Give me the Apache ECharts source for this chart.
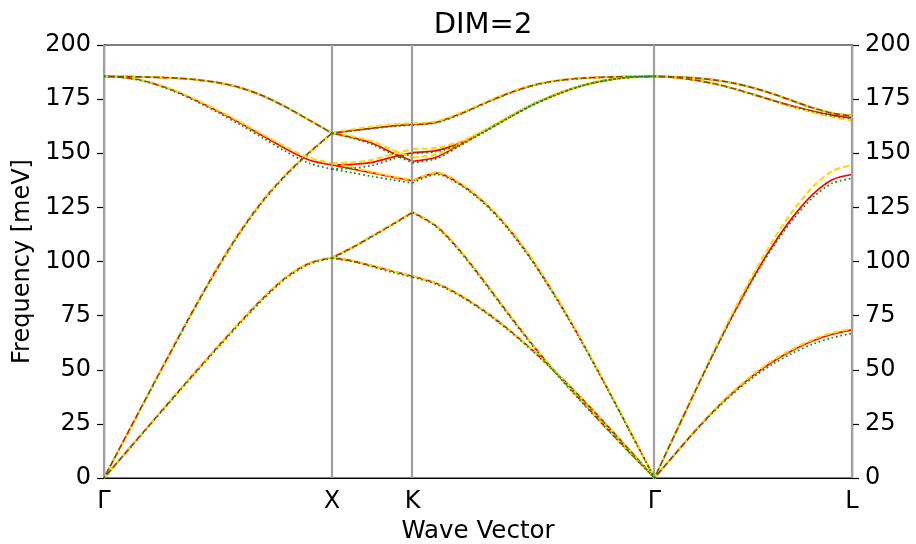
<!DOCTYPE html>
<html>
<head>
<meta charset="utf-8">
<script src="https://cdn.jsdelivr.net/npm/echarts@6/dist/echarts.min.js"></script>
<style>
  html, body { margin: 0; padding: 0; background: #fff; }
  #chart { width: 916px; height: 544px; }
</style>
</head>
<body>
<div id="chart"></div>
<script>
// High-symmetry points along the path (cumulative distance, 2π/a units)
const tickNames = ['Γ', 'X', 'K', 'Γ', 'L'];
const tickPos = [0, 1, 1.35355, 2.41421, 3.28024];
const yTicks = [0, 25, 50, 75, 100, 125, 150, 175, 200];

// Sampling positions inside each segment (fraction of segment length)
const fracFine = [0, 0.1, 0.2, 0.3, 0.4, 0.5, 0.6, 0.7, 0.8, 0.9, 1];
const fracXK = [0, 0.25, 0.5, 0.75, 1];

// ---- Γ–X branches (meV): LA, TA, LO, TO ----
const redGX = [
  [0, 20, 40, 59.8, 79.2, 97.6, 114.3, 128.6, 140.4, 150.4, 159.3],
  [0, 12.3, 24.6, 36.8, 48.9, 60.8, 72.4, 83.4, 92.9, 99.2, 101.8],
  [185.5, 185.4, 185.2, 184.8, 184, 182.6, 180.2, 176.4, 171.2, 165.3, 159.3],
  [185.5, 184.9, 182.8, 179.2, 174.6, 169.4, 163.8, 157.8, 151.9, 146.9, 144.6]
];
const yellowGX = [
  [0, 20, 40, 59.8, 79.2, 97.6, 114.3, 128.6, 140.4, 150.4, 159.3],
  [0, 12.3, 24.6, 36.8, 48.9, 60.8, 72.4, 83.4, 92.9, 99.2, 101.8],
  [185.5, 185.4, 185.2, 184.8, 184, 182.6, 180.2, 176.4, 171.2, 165.3, 159.3],
  [185.5, 184.9, 182.9, 179.4, 174.9, 169.8, 164.3, 158.5, 152.8, 147.9, 145.4]
];
const greenGX = [
  [0, 19.9, 39.7, 59.4, 78.7, 97, 113.7, 128.1, 140, 150.1, 159.3],
  [0, 12.2, 24.3, 36.4, 48.4, 60.2, 71.8, 82.8, 92.3, 98.8, 101.5],
  [185.5, 185.4, 185.2, 184.8, 184, 182.6, 180.2, 176.4, 171.2, 165.3, 159.3],
  [185.5, 184.8, 182.6, 178.9, 174.2, 168.8, 163, 156.8, 150.6, 145.4, 142.7]
];

// ---- X–K branches ----
const redXK = [
  [159.3, 160.5, 161.6, 162.6, 163.3],
  [159.3, 157.3, 154.6, 150.2, 146.3],
  [144.6, 144.9, 145.8, 148.2, 150.3],
  [144.6, 142.8, 140.9, 139, 137.3],
  [101.8, 106.5, 111.8, 117.2, 122.8],
  [101.8, 100.3, 98, 95.5, 93.2]
];
const yellowXK = [
  [159.5, 161, 162.3, 163.3, 163.9],
  [159.5, 157.8, 155.5, 151.6, 148],
  [145.4, 145.8, 147, 149.6, 152],
  [145.4, 143.4, 141.3, 139.3, 137.6],
  [101.8, 106.5, 111.8, 117.2, 122.8],
  [101.8, 100.3, 98, 95.5, 93.2]
];
const greenXK = [
  [159.2, 160.3, 161.4, 162.4, 163],
  [159.2, 157, 154, 149.6, 145.5],
  [142.7, 143.1, 144.4, 147.3, 149.8],
  [142.7, 141, 139.3, 137.7, 136.2],
  [101.5, 106.2, 111.5, 117, 122.6],
  [101.5, 100, 97.6, 95, 92.8]
];

// ---- K–Γ branches ----
const redKG = [
  [163.3, 164.4, 168.4, 173.3, 177.9, 181.5, 183.6, 184.7, 185.2, 185.4, 185.5],
  [150.3, 151.3, 154.9, 160.6, 166.9, 172.8, 177.6, 181.3, 183.8, 185.1, 185.5],
  [146.3, 148.3, 154.3, 160.4, 166.7, 172.6, 177.4, 181.2, 183.7, 185.1, 185.5],
  [137.3, 140.8, 135.6, 126.8, 114.8, 99.7, 82.2, 63, 42.5, 21.3, 0],
  [122.8, 116.2, 104.5, 90.2, 75.3, 61, 47.7, 35.3, 23.3, 11.5, 0],
  [93.2, 89.8, 84.2, 76.9, 68.3, 58.6, 48, 36.7, 24.8, 12.5, 0]
];
const yellowKG = [
  [163.8, 164.8, 168.7, 173.5, 178.1, 181.6, 183.7, 184.7, 185.2, 185.4, 185.5],
  [152, 152.6, 155.5, 160.9, 167.1, 172.9, 177.7, 181.4, 183.8, 185.1, 185.5],
  [148, 149.5, 154.7, 160.6, 166.8, 172.7, 177.5, 181.2, 183.7, 185.1, 185.5],
  [137.6, 141.1, 135.9, 127.1, 115.1, 100, 82.5, 63.2, 42.7, 21.4, 0],
  [122.8, 116.2, 104.5, 90.2, 75.3, 61, 47.7, 35.3, 23.3, 11.5, 0],
  [93.2, 89.8, 84.2, 76.9, 68.3, 58.6, 48, 36.7, 24.8, 12.5, 0]
];
const greenKG = [
  [163, 164.1, 168.1, 173, 177.7, 181.3, 183.5, 184.6, 185.2, 185.4, 185.5],
  [150, 150.8, 154.4, 160.3, 166.6, 172.6, 177.4, 181.2, 183.7, 185.1, 185.5],
  [145.5, 147.6, 153.7, 160, 166.4, 172.4, 177.2, 181.1, 183.6, 185.1, 185.5],
  [136.3, 140.2, 135.1, 126.3, 114.2, 99.1, 81.7, 62.5, 42.1, 21, 0],
  [122.6, 115.8, 104, 89.7, 74.8, 60.5, 47.3, 34.9, 23, 11.3, 0],
  [92.8, 89.4, 83.8, 76.5, 67.9, 58.2, 47.6, 36.4, 24.5, 12.3, 0]
];

// ---- Γ–L branches: LO, TO, LA, TA ----
const redGL = [
  [185.5, 185.3, 184.8, 183.9, 182.4, 180.2, 177.4, 174.2, 171, 168.5, 167.2],
  [185.5, 185, 183.9, 182.2, 179.9, 177.2, 174.4, 171.8, 169.5, 167.6, 166.3],
  [0, 19.6, 39, 57.9, 75.9, 92.6, 107.6, 120.5, 130.9, 137.8, 140.2],
  [0, 10.7, 21.2, 31, 39.8, 47.4, 53.8, 59, 63.3, 66.4, 68.4]
];
const yellowGL = [
  [185.5, 185.3, 184.8, 183.9, 182.4, 180.2, 177.4, 174.3, 171.1, 168.7, 167.5],
  [185.5, 185, 183.9, 182.2, 179.8, 177.1, 174.2, 171.4, 168.9, 166.7, 165.2],
  [0, 19.8, 39.4, 58.6, 77, 94.2, 109.8, 123.3, 134.3, 141.7, 144.6],
  [0, 10.8, 21.4, 31.3, 40.2, 47.9, 54.4, 59.6, 63.9, 67, 68.9]
];
const greenGL = [
  [185.5, 185.3, 184.8, 183.9, 182.4, 180.2, 177.4, 174.2, 171, 168.5, 167.2],
  [185.5, 185, 183.8, 182.1, 179.8, 177.1, 174.3, 171.6, 169.3, 167.3, 166],
  [0, 19.5, 38.8, 57.6, 75.4, 91.9, 106.7, 119.3, 129.4, 136.1, 138.4],
  [0, 10.6, 21, 30.6, 39.1, 46.5, 52.7, 57.7, 61.8, 64.8, 66.8]
];

const FONT = 'DejaVu Sans';

// Line styles for the three calculations: solid red, gold dashed, green dotted
const styles = {
  red: { color: '#ff0000', width: 1.7, type: 'solid', z: 3 },
  yellow: { color: '#ffd700', width: 2.1, type: [6, 3], z: 4 },
  green: { color: '#118a11', width: 1.7, type: [1.7, 2.8], z: 5 }
};

const segments = [
  { frac: fracFine, red: redGX, yellow: yellowGX, green: greenGX },
  { frac: fracXK, red: redXK, yellow: yellowXK, green: greenXK },
  { frac: fracFine, red: redKG, yellow: yellowKG, green: greenKG },
  { frac: fracFine, red: redGL, yellow: yellowGL, green: greenGL }
];

const series = [];
// Grey vertical guide lines at the high-symmetry points
series.push({
  type: 'line',
  data: [],
  z: 1,
  silent: true,
  markLine: {
    silent: true,
    symbol: ['none', 'none'],
    animation: false,
    label: { show: false },
    lineStyle: { color: '#a0a0a0', width: 2.2, type: 'solid' },
    data: tickPos.map(x => ({ xAxis: x }))
  }
});

['red', 'yellow', 'green'].forEach(key => {
  const st = styles[key];
  segments.forEach((seg, s) => {
    const x0 = tickPos[s];
    const len = tickPos[s + 1] - tickPos[s];
    seg[key].forEach(branch => {
      series.push({
        type: 'line',
        z: st.z,
        smooth: 0.3,
        symbol: 'none',
        silent: true,
        lineStyle: { color: st.color, width: st.width, type: st.type },
        data: branch.map((v, i) => [x0 + len * seg.frac[i], v])
      });
    });
  });
});

function nearestName(v) {
  let best = 0;
  for (let i = 1; i < tickPos.length; i++) {
    if (Math.abs(tickPos[i] - v) < Math.abs(tickPos[best] - v)) best = i;
  }
  return tickNames[best];
}

const yAxisBase = {
  type: 'value',
  min: yTicks[0],
  max: yTicks[yTicks.length - 1],
  interval: 25,
  splitLine: { show: false },
  axisLine: { show: true, lineStyle: { color: '#000', width: 1.2 } },
  axisTick: { show: true, inside: false, length: 7, lineStyle: { color: '#000', width: 1.2 } },
  axisLabel: { color: '#000', fontSize: 24, fontFamily: FONT, margin: 13 }
};

const chart = echarts.init(document.getElementById('chart'), null, { renderer: 'canvas' });
chart.setOption({
  animation: false,
  backgroundColor: '#ffffff',
  title: {
    text: 'DIM=2',
    left: 478,
    textAlign: 'center',
    top: 6,
    textStyle: { color: '#000', fontSize: 29, fontWeight: 'normal', fontFamily: FONT }
  },
  grid: {
    left: 104, right: 64, top: 45, bottom: 66,
    outerBoundsMode: 'none',
    containLabel: false,
    show: true, borderColor: '#000', borderWidth: 1.2, backgroundColor: 'transparent'
  },
  xAxis: {
    type: 'value',
    min: tickPos[0],
    max: tickPos[tickPos.length - 1],
    name: 'Wave Vector',
    nameLocation: 'middle',
    nameGap: 35,
    nameTextStyle: { color: '#000', fontSize: 24.5, fontFamily: FONT },
    splitLine: { show: false },
    axisLine: { show: true, lineStyle: { color: '#000', width: 1.2 } },
    axisTick: { show: false },
    axisLabel: {
      customValues: tickPos,
      formatter: v => nearestName(v),
      color: '#000', fontSize: 24, fontFamily: FONT, margin: 12
    }
  },
  yAxis: [
    Object.assign({}, yAxisBase, {
      position: 'left',
      name: 'Frequency [meV]',
      nameLocation: 'middle',
      nameGap: 68,
      nameRotate: 90,
      nameTextStyle: { color: '#000', fontSize: 24, fontFamily: FONT }
    }),
    Object.assign({}, yAxisBase, { position: 'right' })
  ],
  series: series
});
</script>
</body>
</html>
